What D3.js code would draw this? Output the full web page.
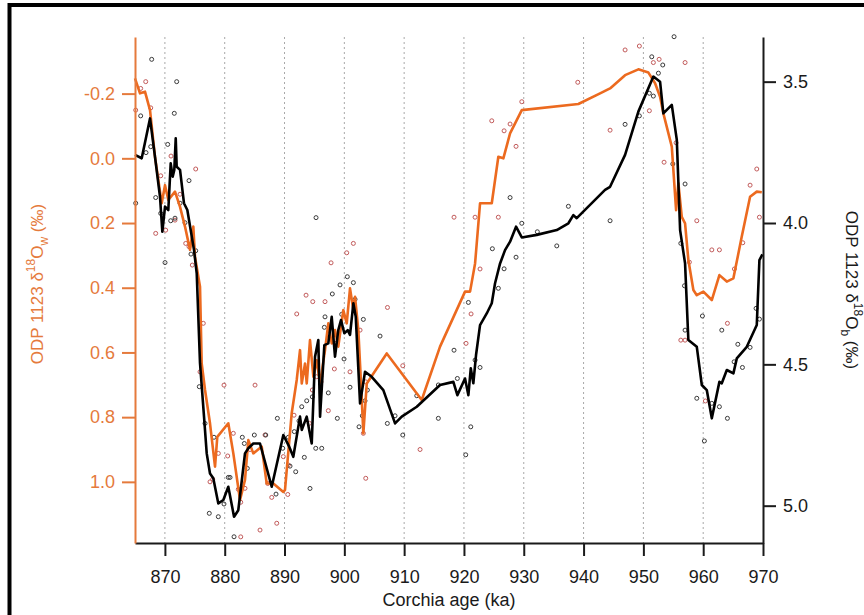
<!DOCTYPE html>
<html>
<head>
<meta charset="utf-8">
<script src="https://cdn.jsdelivr.net/npm/d3@7"></script>
<style>
  html, body { margin: 0; padding: 0; background: #fff; }
  svg { display: block; font-family: "Liberation Sans", Arial, sans-serif; }
</style>
</head>
<body>
<svg id="chart" width="864" height="615"></svg>
<script>
// Smoothed seawater δ18O record (age ka, ‰)
const wLineAge = [865.0,865.84,866.67,867.51,868.34,869.46,870.02,870.57,871.69,872.53,873.36,874.20,874.75,875.03,875.87,876.15,876.71,877.54,878.38,878.76,880.60,881.44,882.56,883.39,883.95,884.78,886.19,887.02,888.13,889.80,890.08,891.20,892.04,892.59,892.88,893.43,893.71,894.26,894.82,895.38,895.94,896.77,897.32,897.89,898.44,898.99,899.83,900.40,900.95,901.51,901.79,902.34,902.79,903.18,903.75,907.09,912.94,916.0,920.18,921.02,921.86,922.69,924.65,925.75,926.59,927.71,929.67,939.13,942.76,944.43,946.94,949.16,950.84,951.96,952.79,953.34,954.75,955.47,955.85,956.42,956.97,957.52,958.36,958.93,960.03,961.44,962.71,963.95,965.05,966.45,967.84,968.96,969.80];
const wLineVal = [-0.247,-0.201,-0.206,-0.149,-0.005,0.139,0.083,0.129,0.103,0.150,0.211,0.283,0.211,0.304,0.397,0.634,0.716,0.819,0.953,0.861,0.819,0.912,1.056,0.994,0.871,0.912,0.891,1.005,1.005,1.031,1.025,0.788,0.685,0.593,0.696,0.634,0.696,0.562,0.675,0.624,0.696,0.593,0.510,0.572,0.531,0.582,0.469,0.510,0.402,0.469,0.428,0.531,0.696,0.850,0.696,0.603,0.747,0.582,0.412,0.412,0.325,0.139,0.139,-0.005,0.000,-0.077,-0.149,-0.168,-0.201,-0.216,-0.257,-0.275,-0.265,-0.232,-0.190,-0.139,-0.036,0.160,0.077,0.181,0.201,0.314,0.407,0.423,0.412,0.438,0.361,0.381,0.371,0.242,0.119,0.103,0.105];

// Smoothed benthic δ18O record (age ka, ‰)
const bLineAge = [865.0,866.12,867.51,868.34,869.18,869.57,870.02,870.57,870.97,871.30,871.57,871.81,871.97,872.53,873.19,873.75,874.31,874.87,875.32,875.87,876.54,876.99,877.54,878.09,878.93,879.77,880.60,881.56,882.27,883.39,883.95,884.78,885.90,887.86,889.80,890.80,891.47,892.59,892.88,893.71,894.55,895.10,895.65,895.94,896.66,897.32,897.89,898.44,898.99,899.44,900.0,900.57,900.95,901.51,901.91,902.63,903.46,904.58,906.52,908.48,909.60,912.11,916.0,918.23,918.90,920.18,920.74,921.14,921.57,922.02,922.69,923.81,924.65,925.20,926.04,926.87,927.71,928.71,929.67,932.17,935.52,937.46,938.29,938.86,943.59,944.43,946.94,949.16,951.67,952.79,953.34,954.75,955.59,956.14,956.97,957.52,958.93,959.77,960.60,961.44,962.71,963.11,963.95,965.05,965.62,967.29,968.96,969.40,969.90];
const bLineVal = [3.759,3.771,3.630,3.765,3.907,4.031,3.942,3.954,3.789,3.836,3.812,3.700,3.801,3.812,3.930,3.954,4.025,4.096,4.178,4.496,4.685,4.815,4.886,4.903,4.992,4.980,4.933,5.039,5.016,4.815,4.797,4.780,4.780,4.933,4.750,4.792,4.827,4.685,4.732,4.685,4.780,4.473,4.414,4.685,4.432,4.426,4.332,4.473,4.379,4.343,4.390,4.379,4.396,4.284,4.332,4.638,4.526,4.544,4.591,4.709,4.685,4.650,4.573,4.562,4.609,4.550,4.609,4.514,4.567,4.467,4.361,4.320,4.284,4.213,4.143,4.096,4.066,4.013,4.051,4.042,4.025,4.001,3.972,3.983,3.883,3.872,3.759,3.606,3.482,3.500,3.612,3.582,3.706,4.025,4.143,4.414,4.438,4.573,4.591,4.691,4.562,4.567,4.520,4.532,4.479,4.438,4.361,4.131,4.111];

// Individual seawater δ18O samples
const wPtAge = [866.79,865.12,865.95,867.63,869.30,868.46,870.13,871.02,871.69,872.53,875.15,873.48,874.03,874.58,876.42,875.87,879.88,885.07,881.44,878.93,880.50,877.54,877.99,882.27,883.39,882.68,884.23,886.74,887.19,887.86,888.70,885.90,882.68,889.80,890.64,890.54,892.04,893.60,894.72,896.77,897.78,898.33,897.32,900.40,901.51,900.95,902.63,903.18,903.58,903.58,907.21,909.77,912.66,894.65,895.38,896.10,891.59,894.15,898.44,918.34,921.86,925.75,924.65,926.71,927.71,929.67,928.71,922.69,921.19,920.35,939.03,946.94,949.33,951.67,952.63,956.97,944.43,951.0,953.46,955.47,958.93,961.44,962.71,957.69,965.22,966.62,967.84,968.96,969.40,956.26,956.97,960.37,964.05];
const wPtVal = [-0.237,-0.149,-0.216,-0.156,0.054,0.232,0.222,-0.007,0.191,0.111,0.033,0.263,0.273,0.330,0.510,0.660,0.701,0.701,0.850,0.912,0.920,1.000,0.992,1.023,1.020,1.063,0.900,0.855,1.005,1.048,1.128,1.149,1.170,0.922,0.948,1.039,0.481,0.423,0.443,0.443,0.323,0.651,0.780,0.292,0.263,0.660,0.531,0.850,0.691,0.989,0.461,0.641,0.900,0.716,0.675,0.691,0.794,0.819,0.572,0.182,0.182,0.182,-0.116,-0.085,-0.106,-0.175,-0.037,0.342,0.481,0.572,-0.235,-0.335,-0.347,-0.296,-0.306,-0.296,-0.087,-0.147,0.012,-0.048,0.193,0.283,0.283,0.321,0.342,0.261,0.083,0.033,0.182,0.562,0.562,0.750,0.510];

// Individual benthic δ18O samples
const bPtAge = [867.79,871.97,865.95,871.57,866.84,867.63,870.47,865.12,868.46,874.03,869.30,870.97,871.69,872.53,873.36,870.02,874.36,875.15,875.75,876.71,878.21,877.42,878.93,879.88,880.60,880.89,881.56,882.94,883.28,883.78,884.95,886.86,888.58,888.80,889.70,895.27,900.50,901.51,899.28,897.99,896.77,896.66,899.56,901.79,903.18,905.97,899.95,900.95,897.32,898.83,896.05,894.65,893.71,892.88,892.42,891.64,890.64,893.31,890.92,891.87,895.22,896.22,894.26,903.01,902.46,903.46,903.85,907.19,908.48,909.77,912.11,915.72,915.72,927.71,929.67,932.27,924.75,928.71,926.71,925.75,920.74,918.34,918.90,922.69,921.86,921.14,920.30,935.52,937.46,955.13,951.40,953.24,952.51,951.0,951.67,949.33,946.94,944.43,954.92,956.97,956.26,956.87,956.97,959.87,963.11,965.79,967.84,968.84,969.40,965.17,966.56,958.93,961.44,962.71,964.05,960.20];
const bPtVal = [3.421,3.500,3.621,3.612,3.751,3.730,3.722,3.930,3.910,3.850,3.966,3.992,3.983,3.930,3.999,4.140,4.110,4.098,4.579,4.709,4.758,5.027,5.039,4.994,4.900,4.900,5.110,4.758,4.780,4.868,4.750,4.750,4.959,4.691,4.797,3.981,4.190,4.211,4.219,4.251,4.332,4.369,4.323,4.270,4.341,4.400,4.481,4.581,4.601,4.691,4.544,4.615,4.629,4.650,4.700,4.738,4.758,4.829,4.860,4.880,4.797,4.797,4.939,4.682,4.721,4.629,4.591,4.709,4.682,4.750,4.611,4.691,4.573,3.910,4.001,4.031,4.091,4.121,4.162,4.231,4.281,4.450,4.550,4.511,4.485,4.721,4.820,4.081,3.941,3.341,3.412,3.441,3.470,3.541,3.551,3.621,3.651,3.992,3.791,3.862,4.072,4.222,4.379,4.329,4.379,4.429,4.440,4.302,4.340,4.491,4.511,4.620,4.638,4.650,4.691,4.771];

// Axis ticks
const ageTicks = [870, 880, 890, 900, 910, 920, 930, 940, 950, 960, 970];
const wTicks = [-0.2, 0.0, 0.2, 0.4, 0.6, 0.8, 1.0];
const bTicks = [3.5, 4.0, 4.5, 5.0];

const ORANGE_AXIS = "#e57a3c";
const ORANGE_LINE = "#ec6a1f";
const RED_PT = "#c25b5b";
const DARK = "#1a1a1a";

const svg = d3.select("#chart");

// frame around the figure
svg.append("rect")
  .attr("x", 9.5).attr("y", 5)
  .attr("width", 900).attr("height", 700)
  .attr("fill", "none").attr("stroke", "#000").attr("stroke-width", 4);

const plotTop = 37, plotBottom = 543, plotLeft = 135, plotRight = 763;

const x = d3.scaleLinear().domain([865, 970]).range([plotLeft, plotRight]);
const yW = d3.scaleLinear().domain([-0.375, 1.189]).range([plotTop, plotBottom]);
const yB = d3.scaleLinear().domain([3.342, 5.132]).range([plotTop, plotBottom]);

// dotted vertical grid
svg.append("g")
  .selectAll("line")
  .data(ageTicks.filter(t => t < 970))
  .join("line")
  .attr("x1", d => x(d)).attr("x2", d => x(d))
  .attr("y1", plotTop).attr("y2", plotBottom)
  .attr("stroke", "#a8a8a8").attr("stroke-width", 1)
  .attr("stroke-dasharray", "2,3");

// sample points
const pts = svg.append("g");
pts.selectAll("circle.w")
  .data(d3.zip(wPtAge, wPtVal))
  .join("circle")
  .attr("class", "w")
  .attr("cx", d => x(d[0])).attr("cy", d => yW(d[1]))
  .attr("r", 2).attr("fill", "none")
  .attr("stroke", RED_PT).attr("stroke-width", 1);
pts.selectAll("circle.b")
  .data(d3.zip(bPtAge, bPtVal))
  .join("circle")
  .attr("class", "b")
  .attr("cx", d => x(d[0])).attr("cy", d => yB(d[1]))
  .attr("r", 2).attr("fill", "none")
  .attr("stroke", "#3a3a3a").attr("stroke-width", 1);

// smoothed curves
const lineW = d3.line().x(d => x(d[0])).y(d => yW(d[1]));
const lineB = d3.line().x(d => x(d[0])).y(d => yB(d[1]));
svg.append("path")
  .attr("d", lineW(d3.zip(wLineAge, wLineVal)))
  .attr("fill", "none").attr("stroke", ORANGE_LINE)
  .attr("stroke-width", 2.6).attr("stroke-linejoin", "round");
svg.append("path")
  .attr("d", lineB(d3.zip(bLineAge, bLineVal)))
  .attr("fill", "none").attr("stroke", "#000")
  .attr("stroke-width", 2.6).attr("stroke-linejoin", "round");

// bottom age axis
const xAxis = svg.append("g")
  .attr("transform", `translate(0,${plotBottom})`)
  .call(d3.axisBottom(x).tickValues(ageTicks).tickSize(13).tickPadding(14).tickSizeOuter(0).tickFormat(d3.format("d")));
xAxis.select(".domain").attr("stroke", DARK).attr("stroke-width", 2);
xAxis.selectAll(".tick line").attr("stroke", DARK).attr("stroke-width", 2);
xAxis.selectAll(".tick text").attr("fill", DARK).attr("font-size", 18)
  .attr("font-family", "Liberation Sans, Arial, sans-serif");

// left axis (seawater)
const wAxis = svg.append("g")
  .attr("transform", `translate(${plotLeft},0)`)
  .call(d3.axisLeft(yW).tickValues(wTicks).tickSize(13).tickPadding(7).tickSizeOuter(0)
    .tickFormat(d => d3.format(".1f")(d).replace("\u2212", "-")));
wAxis.select(".domain").attr("stroke", ORANGE_AXIS).attr("stroke-width", 2);
wAxis.selectAll(".tick line").attr("stroke", ORANGE_AXIS).attr("stroke-width", 2);
wAxis.selectAll(".tick text").attr("fill", ORANGE_AXIS).attr("font-size", 18)
  .attr("font-family", "Liberation Sans, Arial, sans-serif");

// right axis (benthic)
const bAxis = svg.append("g")
  .attr("transform", `translate(${plotRight},0)`)
  .call(d3.axisRight(yB).tickValues(bTicks).tickSize(13).tickPadding(7).tickSizeOuter(0)
    .tickFormat(d3.format(".1f")));
bAxis.select(".domain").attr("stroke", DARK).attr("stroke-width", 2);
bAxis.selectAll(".tick line").attr("stroke", DARK).attr("stroke-width", 2);
bAxis.selectAll(".tick text").attr("fill", DARK).attr("font-size", 18)
  .attr("font-family", "Liberation Sans, Arial, sans-serif");

// axis titles
svg.append("text")
  .attr("x", 449).attr("y", 606)
  .attr("text-anchor", "middle").attr("font-size", 18).attr("fill", DARK)
  .text("Corchia age (ka)");

function isotopeTitle(g, sub) {
  g.append("tspan").text("ODP 1123 \u03b4");
  g.append("tspan").attr("font-size", 12).attr("dy", -8).text("18");
  g.append("tspan").attr("dy", 8).text("O");
  g.append("tspan").attr("font-size", 12).attr("dy", 5).text(sub);
  g.append("tspan").attr("dy", -5).text(" (\u2030)");
}

const tW = svg.append("text")
  .attr("transform", "translate(43,284) rotate(-90)")
  .attr("text-anchor", "middle").attr("font-size", 17).attr("fill", ORANGE_AXIS);
isotopeTitle(tW, "w");

const tB = svg.append("text")
  .attr("transform", "translate(846,290) rotate(90)")
  .attr("text-anchor", "middle").attr("font-size", 17).attr("fill", DARK);
isotopeTitle(tB, "b");
</script>
</body>
</html>
